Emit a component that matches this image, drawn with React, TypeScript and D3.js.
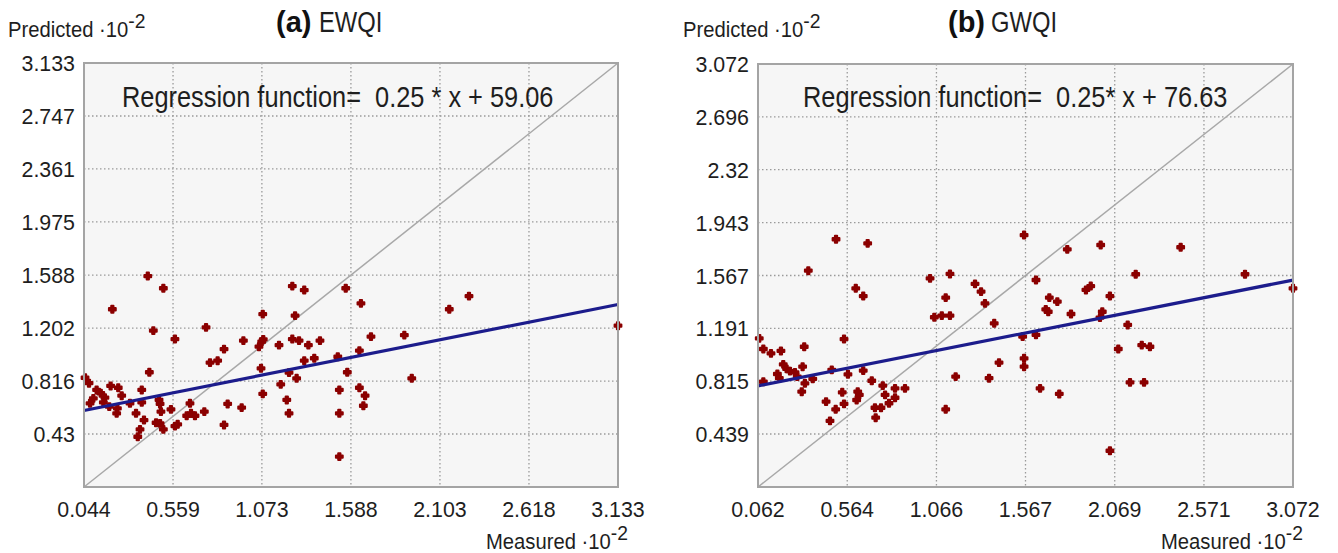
import React from "react";
import * as d3 from "d3";

// Panel (a) EWQI
const domainA = [0.044, 3.133];
const xTicksA = ["0.044", "0.559", "1.073", "1.588", "2.103", "2.618", "3.133"];
const yTicksA = ["0.43", "0.816", "1.202", "1.588", "1.975", "2.361", "2.747", "3.133"];
const regA = { slope: 0.25, intercept: 0.5906, label: "Regression function=  0.25 * x + 59.06" };
const measuredA = [
  0.413, 0.503, 0.208, 0.445, 0.570, 0.422, 0.050, 0.073, 0.198, 0.242, 0.117, 0.141, 0.262, 0.165,
  0.098, 0.079, 0.156, 0.190, 0.237, 0.233, 0.310, 0.378, 0.378, 0.478, 0.484, 0.489, 0.345, 0.391,
  0.368, 0.355, 0.461, 0.484, 0.503, 0.547, 0.570, 0.586, 0.657, 0.663, 0.638, 0.686, 0.740, 0.875,
  0.956, 0.854, 0.750, 0.773, 0.817, 0.854, 0.966, 1.056, 1.072, 1.081, 1.078, 1.068, 1.078, 1.172,
  1.249, 1.318, 1.265, 1.249, 1.288, 1.342, 1.409, 1.318, 1.376, 1.230, 1.274, 1.182, 1.217, 1.230,
  1.512, 1.558, 1.646, 1.704, 1.637, 1.567, 1.521, 1.521, 1.521, 1.637, 1.670, 1.660, 1.897, 1.940,
  2.157, 2.271, 3.133,
];
const predictedA = [
  1.581, 1.492, 1.339, 1.183, 1.122, 0.880, 0.840, 0.800, 0.780, 0.767, 0.751, 0.727, 0.709, 0.695,
  0.690, 0.654, 0.661, 0.629, 0.617, 0.581, 0.654, 0.751, 0.661, 0.678, 0.649, 0.593, 0.581, 0.532,
  0.464, 0.410, 0.512, 0.508, 0.464, 0.610, 0.488, 0.501, 0.654, 0.581, 0.563, 0.563, 0.593, 0.649,
  0.622, 0.496, 1.207, 0.950, 0.964, 1.049, 1.110, 1.066, 1.103, 1.120, 1.304, 0.909, 0.722, 1.078,
  1.508, 1.479, 1.292, 1.122, 1.110, 1.078, 1.110, 0.964, 0.982, 0.877, 0.836, 0.792, 0.678, 0.581,
  0.993, 1.492, 1.382, 1.139, 1.037, 0.880, 0.751, 0.581, 0.265, 0.767, 0.709, 0.636, 1.151, 0.836,
  1.339, 1.435, 1.219,
];

// Panel (b) GWQI
const domainB = [0.062, 3.072];
const xTicksB = ["0.062", "0.564", "1.066", "1.567", "2.069", "2.571", "3.072"];
const yTicksB = ["0.439", "0.815", "1.191", "1.567", "1.943", "2.32", "2.696", "3.072"];
const regB = { slope: 0.25, intercept: 0.7663, label: "Regression function=  0.25* x + 76.63" };
const measuredB = [
  0.501, 0.679, 0.345, 0.612, 0.654, 1.030, 1.142, 1.118, 1.054, 1.096, 1.142, 1.283, 1.317, 1.339,
  1.391, 1.418, 1.362, 1.174, 1.118, 0.069, 0.092, 0.135, 0.191, 0.322, 0.546, 0.204, 0.223, 0.242,
  0.270, 0.313, 0.171, 0.182, 0.092, 0.283, 0.326, 0.370, 0.308, 0.477, 0.568, 0.654, 0.702, 0.536,
  0.623, 0.632, 0.617, 0.546, 0.445, 0.499, 0.467, 0.720, 0.754, 0.724, 0.764, 0.777, 0.799, 0.833,
  0.833, 0.889, 1.559, 1.802, 1.990, 2.440, 2.187, 2.802, 3.072, 1.626, 1.907, 1.934, 2.042, 1.701,
  1.746, 1.681, 1.695, 1.823, 1.999, 1.986, 2.142, 1.551, 1.626, 2.089, 2.221, 2.267, 1.559, 1.559,
  2.155, 2.234, 1.649, 1.757, 2.042,
];
const predictedB = [
  1.825, 1.796, 1.601, 1.476, 1.421, 1.547, 1.578, 1.409, 1.270, 1.281, 1.281, 1.507, 1.452, 1.369,
  1.227, 0.947, 0.836, 0.847, 0.615, 1.120, 1.044, 1.013, 1.030, 1.060, 1.115, 0.935, 0.902, 0.887,
  0.878, 0.918, 0.866, 0.836, 0.811, 0.847, 0.800, 0.831, 0.740, 0.895, 0.864, 0.890, 0.818, 0.736,
  0.740, 0.717, 0.681, 0.653, 0.669, 0.615, 0.532, 0.626, 0.626, 0.555, 0.783, 0.717, 0.658, 0.697,
  0.764, 0.764, 1.855, 1.753, 1.784, 1.768, 1.576, 1.576, 1.476, 1.535, 1.464, 1.492, 1.421, 1.409,
  1.381, 1.326, 1.309, 1.293, 1.309, 1.267, 1.215, 1.132, 1.144, 1.044, 1.072, 1.060, 0.978, 0.918,
  0.807, 0.807, 0.764, 0.724, 0.320,
];

const FONT = "'Liberation Sans', Arial, sans-serif";

// condensed text: draws at (x, y) and squeezes horizontally to mimic the narrow original font
const NText = ({ x, y, size, anchor = "start", sq = 0.85, children }: any) => (
  <text
    transform={`translate(${x},${y}) scale(${sq},1)`}
    fontSize={size}
    textAnchor={anchor}
    fill="#1e1e1e"
    style={{ whiteSpace: "pre" }}
  >
    {children}
  </text>
);

type PanelProps = {
  left: number;
  right: number;
  top: number;
  bottom: number;
  domain: number[];
  xTicks: string[];
  yTicks: string[];
  measured: number[];
  predicted: number[];
  reg: { slope: number; intercept: number; label: string };
  tag: string;
  name: string;
  titleX: number;
  predX: number;
  regX: number;
};

const Panel = (p: PanelProps) => {
  const x = d3.scaleLinear().domain(p.domain).range([p.left, p.right]);
  const y = d3.scaleLinear().domain(p.domain).range([p.bottom, p.top]);
  const [d0, d1] = p.domain;
  const regLine = d3
    .line<number>()
    .x((v) => x(v))
    .y((v) => y(p.reg.slope * v + p.reg.intercept));
  const cross = d3.symbol().type(d3.symbolCross).size(26)();

  return (
    <g>
      <rect x={p.left} y={p.top} width={p.right - p.left} height={p.bottom - p.top} fill="#f6f6f6" />

      {p.xTicks.slice(1, -1).map((t) => (
        <line key={"gx" + t} x1={x(+t)} x2={x(+t)} y1={p.top} y2={p.bottom}
          stroke="#9a9a9a" strokeWidth={1.3} strokeDasharray="1.5,2.5" />
      ))}
      {p.yTicks.slice(0, -1).map((t) => (
        <line key={"gy" + t} x1={p.left} x2={p.right} y1={y(+t)} y2={y(+t)}
          stroke="#9a9a9a" strokeWidth={1.3} strokeDasharray="1.5,2.5" />
      ))}

      <line x1={x(d0)} y1={y(d0)} x2={x(d1)} y2={y(d1)} stroke="#a8a8a8" strokeWidth={1.5} />

      {p.measured.map((m, i) => (
        <path key={"pt" + i} d={cross} transform={`translate(${x(m)},${y(p.predicted[i])})`}
          fill="#8b0000" stroke="#8b0000" strokeWidth={2} strokeLinejoin="round" />
      ))}

      <path d={regLine([d0, d1]) || ""} fill="none" stroke="#1c1c8c" strokeWidth={3.2} />

      <rect x={p.left} y={p.top} width={p.right - p.left} height={p.bottom - p.top}
        fill="none" stroke="#a4a4a4" strokeWidth={2} />

      {p.yTicks.map((t) => (
        <NText key={"ty" + t} x={p.left - 9} y={y(+t) + 8} size={23} sq={0.93} anchor="end">{t}</NText>
      ))}
      {p.xTicks.map((t) => (
        <NText key={"tx" + t} x={x(+t)} y={p.bottom + 30} size={23} sq={0.93} anchor="middle">{t}</NText>
      ))}

      <NText x={p.predX} y={37} size={22} sq={0.92}>
        Predicted ·10<tspan dy={-9} fontSize={21}>-2</tspan>
      </NText>
      <NText x={p.right + 10} y={549} size={22} sq={0.92} anchor="end">
        Measured ·10<tspan dy={-9} fontSize={21}>-2</tspan>
      </NText>

      <text x={p.titleX} y={32} fontSize={29} fill="#111" fontWeight="bold">{p.tag}</text>
      <NText x={p.titleX + 43} y={32} size={29} sq={0.82}>{p.name}</NText>

      <NText x={p.regX} y={107} size={29} sq={0.875}>{p.reg.label}</NText>
    </g>
  );
};

export default function App() {
  return (
    <svg width={1338} height={553} style={{ position: "absolute", left: 0, top: 0, background: "#fff" }}
      fontFamily={FONT}>
      <Panel left={84} right={618} top={63} bottom={487} domain={domainA} xTicks={xTicksA} yTicks={yTicksA}
        measured={measuredA} predicted={predictedA} reg={regA} tag="(a)" name="EWQI" titleX={276} predX={8}
        regX={122} />
      <Panel left={758} right={1293} top={64} bottom={487} domain={domainB} xTicks={xTicksB} yTicks={yTicksB}
        measured={measuredB} predicted={predictedB} reg={regB} tag="(b)" name="GWQI" titleX={948} predX={683}
        regX={803} />
    </svg>
  );
}
